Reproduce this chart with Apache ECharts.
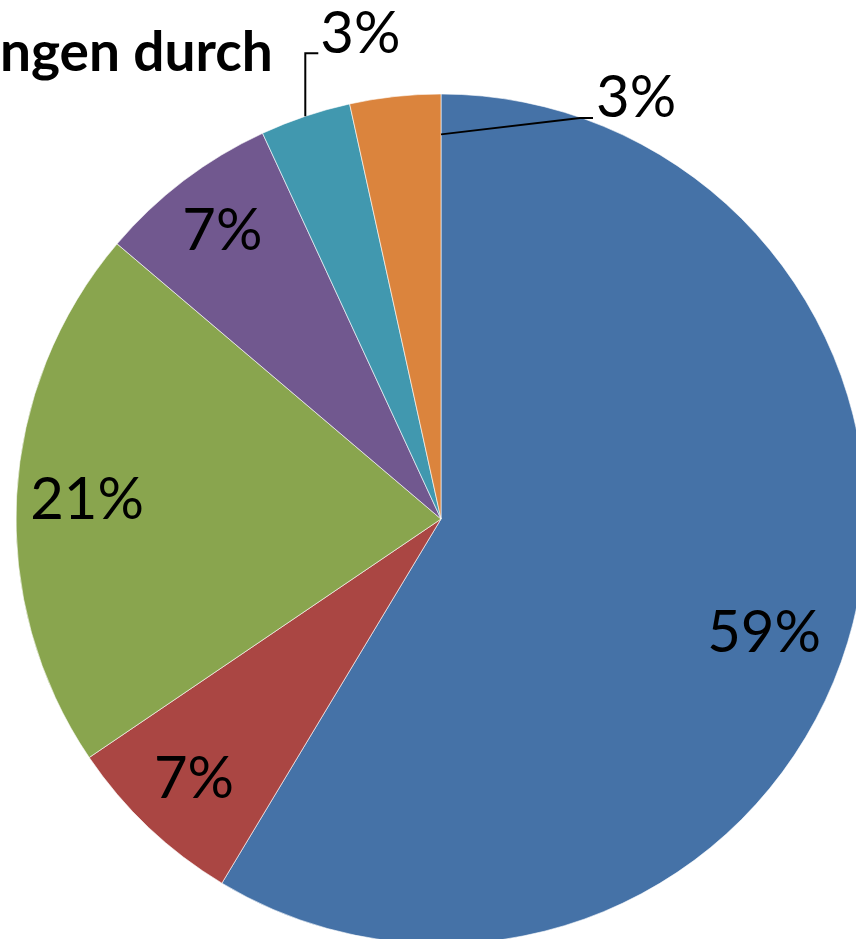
<!DOCTYPE html>
<html>
<head>
<meta charset="utf-8">
<script src="https://cdn.jsdelivr.net/npm/echarts@6/dist/echarts.min.js"></script>
<style>html,body{margin:0;padding:0;background:#fff}#c{width:856px;height:939px}</style>
</head>
<body>
<div id="c"></div>
<script>
const titleText = 'ngen durch';
const categories = ['A', 'B', 'C', 'D', 'E', 'F'];
const values = [17, 2, 6, 2, 1, 1];
const colors = ['#4572A7', '#AA4643', '#89A54E', '#71588F', '#4198AF', '#DB843D'];

// layout constants (not data)
const CX = 441, CY = 519, R = 425;
const insideLabelRadius = [0.806, 0.845, 0.834, 0.85];
const insideLabelAngleShift = [3.9, 0, 0, 0];

const total = values.reduce((a, b) => a + b, 0);
const midAngles = [];
(function () {
  let acc = 0;
  values.forEach(v => { midAngles.push((acc + v / 2) / total * 2 * Math.PI); acc += v; });
})();

const chart = echarts.init(document.getElementById('c'), null, { renderer: 'canvas' });
chart.setOption({
  backgroundColor: '#fff',
  animation: false,
  title: {
    text: titleText, left: -5, top: 21,
    textStyle: { fontFamily: 'Lato', fontWeight: 'bold', fontSize: 55, color: '#000' }
  },
  series: [{
    type: 'pie',
    z: 2,
    center: [CX, CY],
    radius: [0, R],
    startAngle: 90,
    clockwise: true,
    silent: true,
    itemStyle: { borderColor: 'rgba(255,255,255,0.6)', borderWidth: 1 },
    label: { show: false },
    labelLine: { show: false },
    data: categories.map((c, i) => ({ name: c, value: values[i], itemStyle: { color: colors[i] } }))
  }, {
    type: 'pie',
    z: 5,
    center: [CX, CY],
    radius: [0, R],
    startAngle: 90,
    clockwise: true,
    silent: true,
    avoidLabelOverlap: false,
    itemStyle: { color: 'rgba(0,0,0,0)', borderWidth: 0 },
    label: {
      show: true,
      position: 'outside',
      formatter: p => Math.round(p.percent) + '%',
      fontFamily: 'Lato', fontSize: 58, color: '#000'
    },
    labelLine: { show: true, length: 20, length2: 14, lineStyle: { color: '#000', width: 2 } },
    labelLayout: function (p) {
      const i = p.dataIndex;
      const a = midAngles[i];
      if (i < 4) {
        const d = R * insideLabelRadius[i];
        const aa = a + insideLabelAngleShift[i] * Math.PI / 180;
        return { x: CX + d * Math.sin(aa), y: CY - d * Math.cos(aa), align: 'center', verticalAlign: 'middle' };
      }
      if (i === 4) {
        const ex = CX + R * Math.sin(a), ey = CY - R * Math.cos(a);
        return {
          x: ex + 15, y: ey - 82, align: 'left', verticalAlign: 'middle',
          labelLinePoints: [[ex, ey], [ex, ey - 63], [ex + 13, ey - 63]]
        };
      }
      const sx = CX, sy = CY - R * 0.905;
      return {
        x: CX + 155, y: CY - 421, align: 'left', verticalAlign: 'middle',
        labelLinePoints: [[sx, sy], [CX + 139, CY - 401], [CX + 152, CY - 401]]
      };
    },
    data: categories.map((c, i) => ({
      name: c, value: values[i],
      labelLine: { show: i >= 4 }
    }))
  }]
});
</script>
</body>
</html>
